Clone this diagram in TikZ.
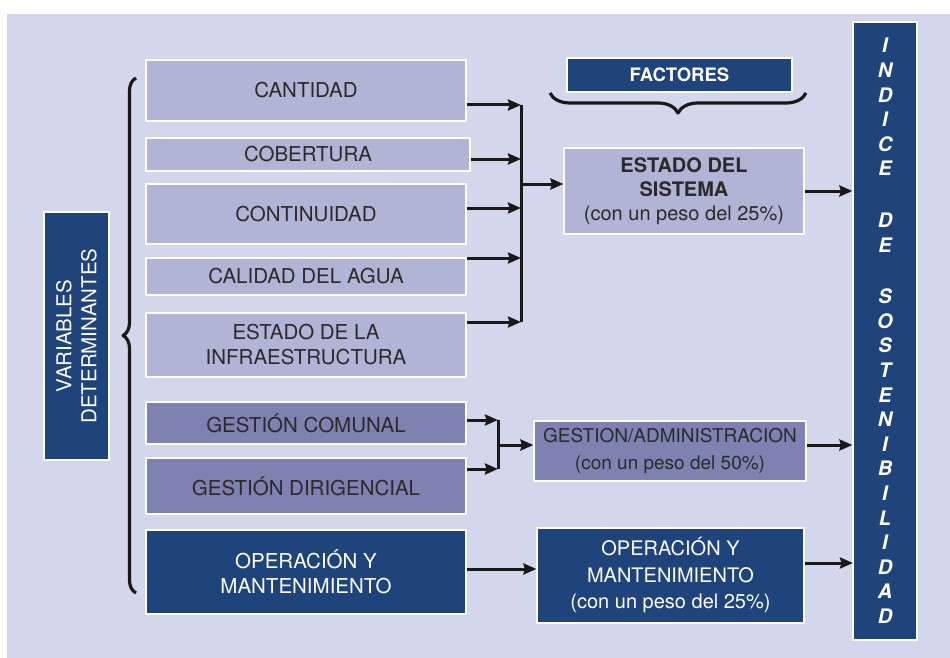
\documentclass[tikz,border=0pt]{standalone}
\usepackage{fontspec}
\setmainfont{TeX Gyre Heros}
\usetikzlibrary{arrows.meta,decorations.pathreplacing}
\definecolor{fondo}{HTML}{D3D7EB}
\definecolor{lila}{HTML}{B0B4D5}
\definecolor{lilaosc}{HTML}{7D82B1}
\definecolor{azul}{HTML}{1F437B}
\definecolor{texto}{HTML}{2A2A2A}
\tikzset{
  caja/.style={draw=white,line width=1.2pt,fill=lila,text=texto,inner sep=0pt,align=center,font=\fontsize{20.5}{25}\selectfont},
  cajamed/.style={caja,fill=lilaosc},
  cajaazul/.style={caja,fill=azul,text=white},
  flecha/.style={->,line width=3pt,black!90},
  llave/.style={decorate,line width=3.2pt,black!90}
}
\begin{document}
\begin{tikzpicture}[x=1pt,y=-1pt,line join=round,>={Stealth[length=13pt,width=11pt,inset=1.5pt]}]
				\useasboundingbox (0,0) rectangle (950,658);
				\fill[fondo] (7,14) rectangle (950,658);
				
				\node[caja,minimum width=320pt,minimum height=61pt] (cant) at (306,90.5) {CANTIDAD};
				\node[caja,minimum width=324pt,minimum height=33pt] (cob) at (308,154.5) {COBERTURA};
				\node[caja,minimum width=320pt,minimum height=60pt] (cont) at (306,214) {CONTINUIDAD};
				\node[caja,minimum width=320pt,minimum height=37pt] (cal) at (306,276.5) {CALIDAD DEL AGUA};
				\node[caja,minimum width=320pt,minimum height=64pt] (infra) at (306,345) {ESTADO DE LA\\INFRAESTRUCTURA};
				\node[cajamed,minimum width=320pt,minimum height=42pt] (gcom) at (306,423) {GESTIÓN COMUNAL};
				\node[cajamed,minimum width=320pt,minimum height=56pt] (gdir) at (306,486) {GESTIÓN DIRIGENCIAL};
				\node[cajaazul,minimum width=320pt,minimum height=84pt] (opm) at (306,572) {OPERACIÓN Y\\MANTENIMIENTO};
				\node[cajaazul,rotate=90,minimum width=248pt,minimum height=65pt] (vardet) at (76.5,336) {VARIABLES\\DETERMINANTES};
				
				\node[cajaazul,minimum width=225pt,minimum height=34pt,font=\fontsize{18.5}{20}\selectfont\bfseries] (fact) at (679.5,75) {FACTORES};
				\node[caja,minimum width=240pt,minimum height=86pt,font=\fontsize{20}{24}\selectfont] (estado) at (684,191) {\textbf{ESTADO DEL}\\\textbf{SISTEMA}\\(con un peso del 25\%)};
				\node[cajamed,minimum width=272pt,minimum height=60pt,font=\fontsize{19}{24}\selectfont] (gestadm) at (670,451) {GESTION/ADMINISTRACION\\[3pt](con un peso del 50\%)};
				\node[cajaazul,minimum width=267pt,minimum height=95pt,font=\fontsize{20}{26.5}\selectfont] (opm2) at (670.5,575.5) {OPERACIÓN Y\\MANTENIMIENTO\\(con un peso del 25\%)};
				\node[cajaazul,minimum width=64pt,minimum height=618pt,font=\fontsize{20}{24.6}\selectfont\bfseries\itshape] (indice) at (885,331) {I\\N\\D\\I\\C\\E\\[27pt]D\\E\\[27pt]S\\O\\S\\T\\E\\N\\I\\B\\I\\L\\I\\D\\A\\D};
				
				\coordinate (j0) at (521,184);
				\coordinate (j1) at (521,105);
				\coordinate (j2) at (521,159);
				\coordinate (j3) at (521,208);
				\coordinate (j4) at (521,258);
				\coordinate (j5) at (521,322);
				\coordinate (k0) at (498,445);
				\coordinate (k1) at (498,420);
				\coordinate (k2) at (498,469);
				\coordinate (m1) at (853,563);
				
				\draw[line width=3pt,black!90] (j1) -- (j5);
				\foreach \b/\j in {cant/j1,cob/j2,cont/j3,cal/j4,infra/j5}
				\draw[flecha] (\b.east |- \j) -- (\j);
				\draw[flecha] (j0) -- (j0 -| estado.west);
				\draw[flecha] (estado.east) -- (estado.east -| indice.west);
				
				\draw[line width=3pt,black!90] (k1) -- (k2);
				\draw[flecha] (gcom.east |- k1) -- (k1);
				\draw[flecha] (gdir.east |- k2) -- (k2);
				\draw[flecha] (k0) -- (k0 -| gestadm.west);
				\draw[flecha] (gestadm.east |- k0) -- (k0 -| indice.west);
				
				\draw[flecha] (opm.east |- 0,569) -- (opm2.west |- 0,569);
				\draw[flecha] (opm2.east |- m1) -- (m1);
				
				\draw[llave,decoration={brace,amplitude=13pt}] (136,593) -- (136,78);
				\draw[llave,decoration={brace,mirror,amplitude=20pt}] (550,93) -- (806,93);
			\end{tikzpicture}
\end{document}
